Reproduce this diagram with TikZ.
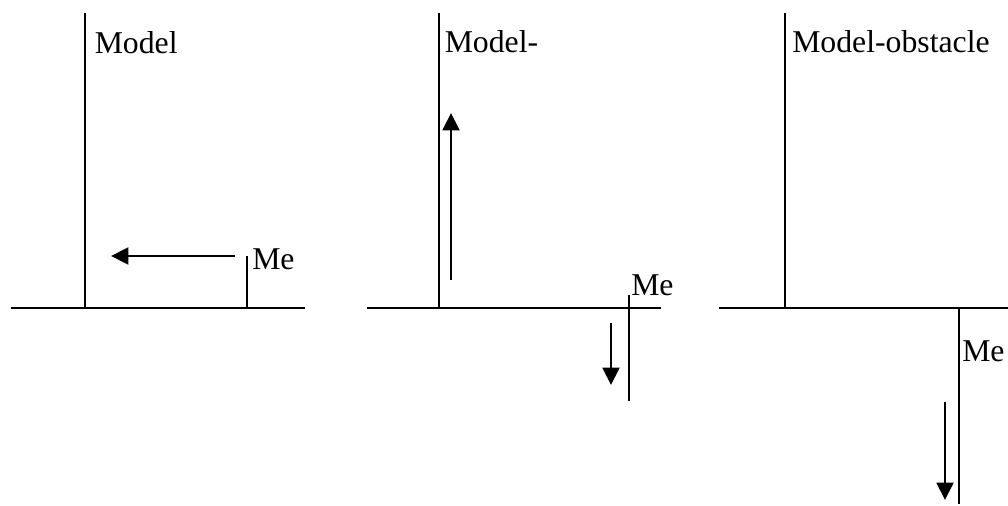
\documentclass[tikz,border=0pt]{standalone}
\usepackage{fontspec}
\setmainfont{Liberation Serif}
\usetikzlibrary{arrows.meta}
\tikzset{
  line/.style={line width=1.5pt},
  move/.style={line width=2.2pt,-{Triangle[length=13pt,width=12.5pt]}},
  lbl/.style={anchor=base west,inner sep=0pt,font=\fontsize{23.8}{28}\selectfont}
}
\begin{document}
\begin{tikzpicture}[x=0.75pt,y=-0.75pt]
	\useasboundingbox (0,0) rectangle (1008,506);
	% left: Model and Me on the same ground
	\coordinate (G1a) at (11,308);  \coordinate (G1b) at (305,308);
	\coordinate (M1a) at (85,13);   \coordinate (M1b) at (85,308);
	\coordinate (E1a) at (247,256); \coordinate (E1b) at (247,308);
	\coordinate (A1a) at (235,256); \coordinate (A1b) at (111,256);
	\node[lbl] (model1) at (94.5,54) {Model};
	\node[lbl] (me1) at (252,270) {Me};
	\draw[line] (G1a)--(G1b) (M1a)--(M1b) (E1a)--(E1b);
	\draw[move] (A1a)--(A1b);
	% middle: Model- and Me across the ground
	\coordinate (G2a) at (367,308); \coordinate (G2b) at (661,308);
	\coordinate (M2a) at (439,13);  \coordinate (M2b) at (439,308);
	\coordinate (E2a) at (629,295); \coordinate (E2b) at (629,401);
	\coordinate (U2a) at (451,280); \coordinate (U2b) at (451,113);
	\coordinate (D2a) at (611,323); \coordinate (D2b) at (611,385);
	\node[lbl] (model2) at (444.5,53) {Model-};
	\node[lbl] (me2) at (631,296) {Me};
	\draw[line] (G2a)--(G2b) (M2a)--(M2b) (E2a)--(E2b);
	\draw[move] (U2a)--(U2b);
	\draw[move] (D2a)--(D2b);
	% right: Model-obstacle, Me below the ground
	\coordinate (G3a) at (719,308); \coordinate (G3b) at (1008,308);
	\coordinate (M3a) at (785,13);  \coordinate (M3b) at (785,308);
	\coordinate (E3a) at (959,308); \coordinate (E3b) at (959,504);
	\coordinate (D3a) at (945,402); \coordinate (D3b) at (945,500);
	\node[lbl] (model3) at (792,53) {Model-obstacle};
	\node[lbl] (me3) at (962,362) {Me};
	\draw[line] (G3a)--(G3b) (M3a)--(M3b) (E3a)--(E3b);
	\draw[move] (D3a)--(D3b);
\end{tikzpicture}
\end{document}
